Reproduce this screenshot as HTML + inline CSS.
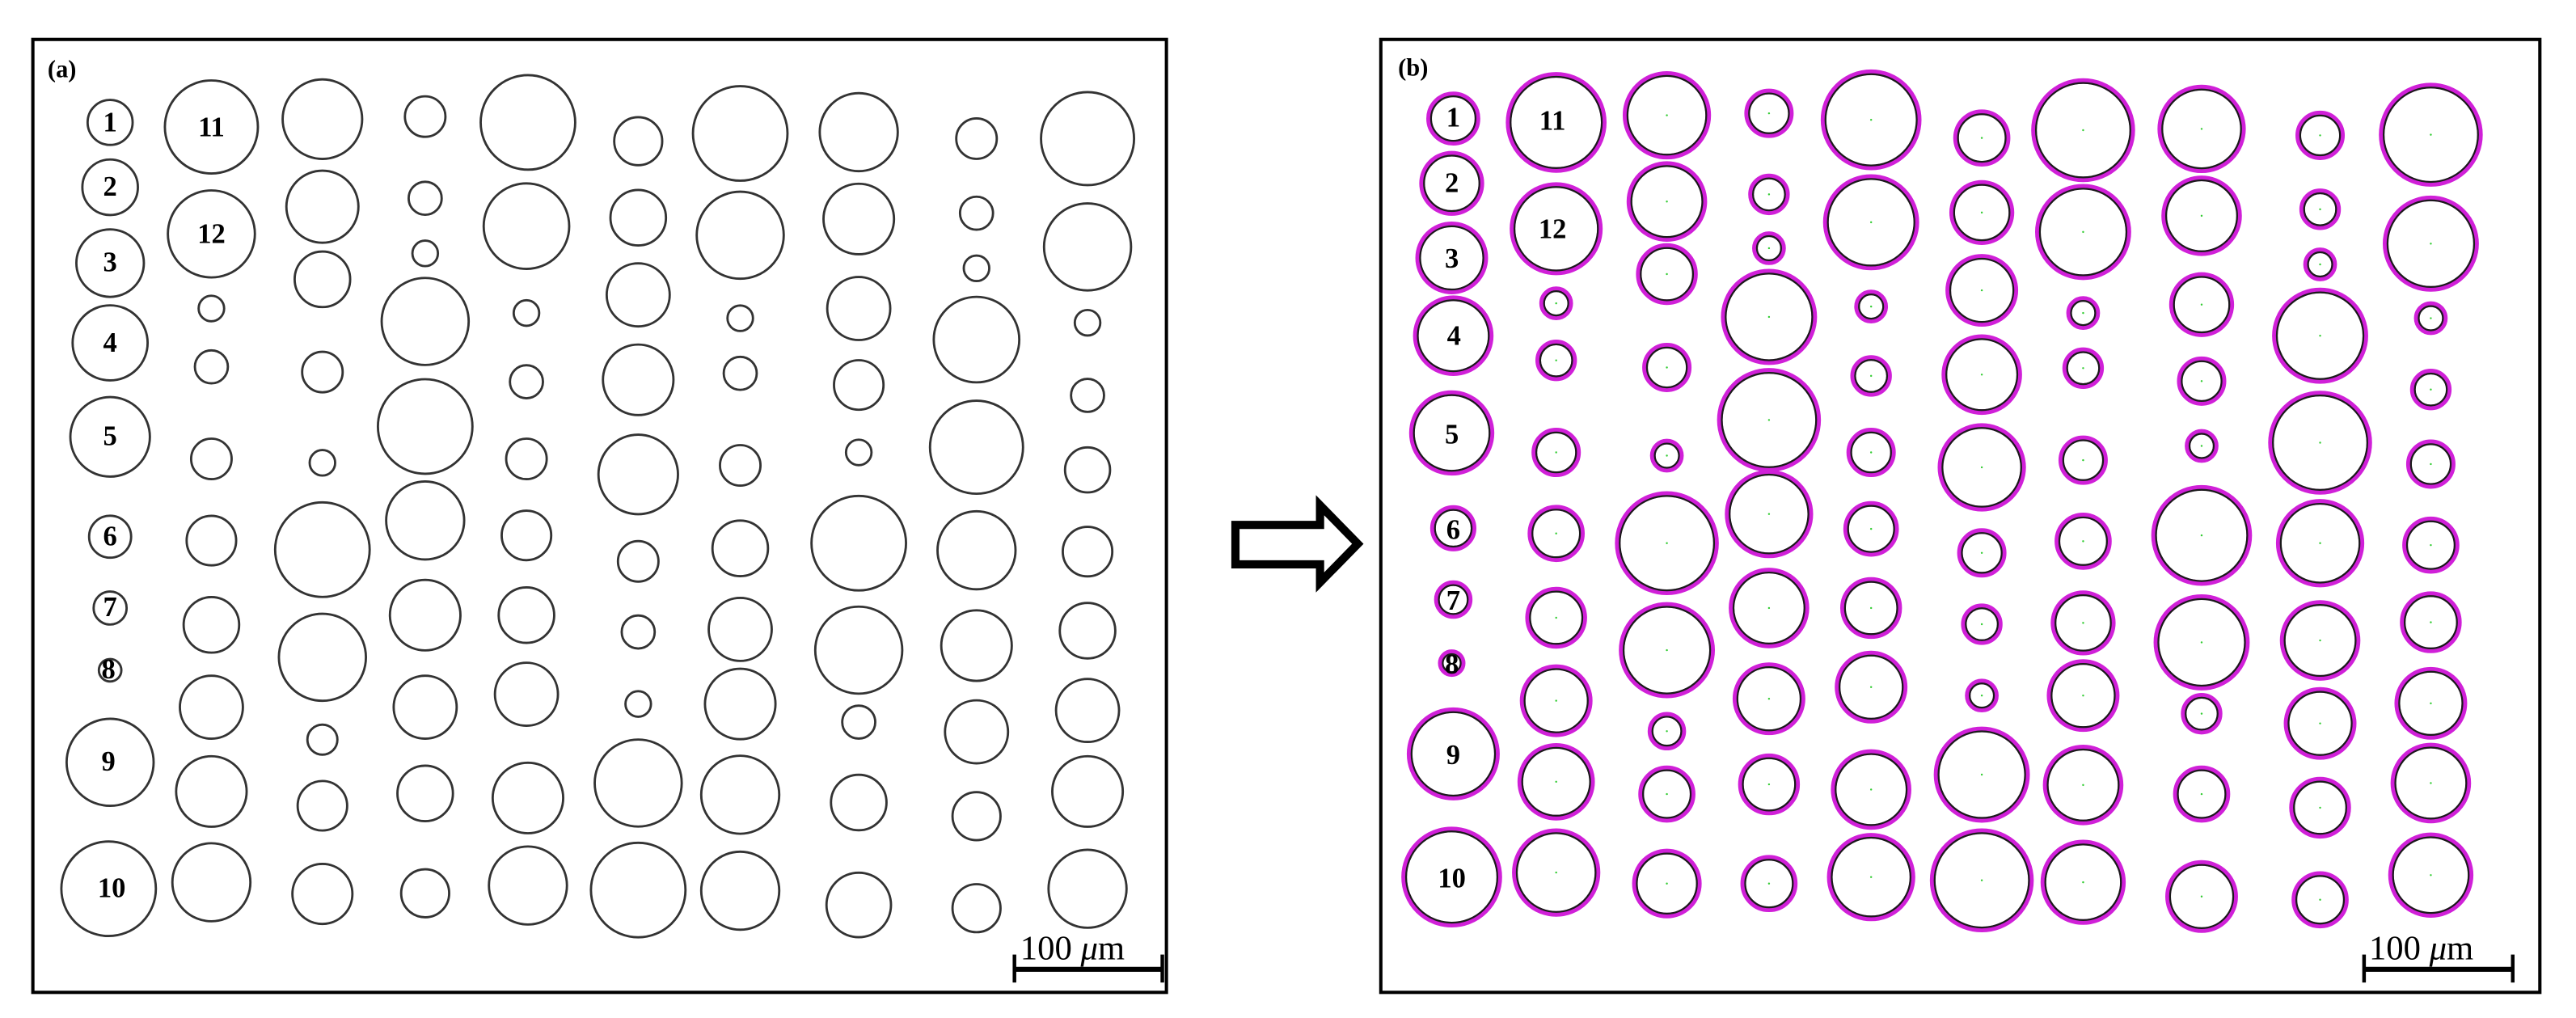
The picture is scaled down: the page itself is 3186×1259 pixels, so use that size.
<!DOCTYPE html>
<html><head><meta charset="utf-8"><style>
html,body{margin:0;padding:0;background:#fff;}
svg{display:block;}
.lb{font-family:"Liberation Serif",serif;font-weight:bold;font-size:17px;text-anchor:middle;fill:#000;}
.sb{font-family:"Liberation Serif",serif;font-size:21px;fill:#000;}
</style></head><body>
<svg id="s" width="3186" height="1259" viewBox="0 0 1568 619.6" preserveAspectRatio="none" xmlns="http://www.w3.org/2000/svg">
<rect x="0" y="0" width="1568" height="620" fill="#fff"/>
<rect x="20" y="24" width="690" height="580" fill="#fff" stroke="#000" stroke-width="2"/>
<rect x="840.5" y="24" width="705.5" height="580" fill="#fff" stroke="#000" stroke-width="2"/>
<g id="ga"></g>
<g id="gb"></g>
<path d="M752,319.5 L803.5,319.5 L803.5,307.5 L826.5,331 L803.5,354.5 L803.5,343.5 L752,343.5 Z" fill="#fff" stroke="#000" stroke-width="5" stroke-linejoin="miter"/>
<text class="lb" x="29" y="47" style="text-anchor:start;font-size:15px">(a)</text>
<text class="lb" x="851" y="46" style="text-anchor:start;font-size:15px">(b)</text>
<g>
<text class="lb" x="67" y="80">1</text>
<text class="lb" x="67" y="119">2</text>
<text class="lb" x="67" y="165">3</text>
<text class="lb" x="67" y="214">4</text>
<text class="lb" x="67" y="271">5</text>
<text class="lb" x="67" y="332">6</text>
<text class="lb" x="67" y="375">7</text>
<text class="lb" x="66" y="413">8</text>
<text class="lb" x="66" y="469">9</text>
<text class="lb" x="68" y="546">10</text>
<text class="lb" x="128.7" y="83">11</text>
<text class="lb" x="128.7" y="148">12</text>
</g>
<g>
<text class="lb" x="884.6" y="77">1</text>
<text class="lb" x="883.7" y="117">2</text>
<text class="lb" x="883.7" y="163">3</text>
<text class="lb" x="885" y="210">4</text>
<text class="lb" x="883.7" y="270">5</text>
<text class="lb" x="884.6" y="328">6</text>
<text class="lb" x="884.6" y="371">7</text>
<text class="lb" x="883.7" y="410">8</text>
<text class="lb" x="884.6" y="465">9</text>
<text class="lb" x="883.7" y="540">10</text>
<text class="lb" x="945" y="79">11</text>
<text class="lb" x="945" y="145">12</text>
</g>
<line x1="617.5" y1="590" x2="707.5" y2="590" stroke="#000" stroke-width="3"/>
<line x1="617.5" y1="581" x2="617.5" y2="598" stroke="#000" stroke-width="2.2"/>
<line x1="707.5" y1="581" x2="707.5" y2="598" stroke="#000" stroke-width="2.2"/>
<text class="sb" x="621" y="584">100 <tspan font-style="italic">μ</tspan>m</text>
<line x1="1439" y1="590" x2="1529.5" y2="590" stroke="#000" stroke-width="3"/>
<line x1="1439" y1="581" x2="1439" y2="598" stroke="#000" stroke-width="2.2"/>
<line x1="1529.5" y1="581" x2="1529.5" y2="598" stroke="#000" stroke-width="2.2"/>
<text class="sb" x="1442" y="584">100 <tspan font-style="italic">μ</tspan>m</text>
</svg>
<script>
var A=[[145,183,30],[145,283,37],[145,400,45],[145,523,50],[145,668,53],[145,822,28],[145,932,22],[145,1028,15],[145,1170,58],[143,1365,63],
[280,190,62],[280,355,58],[280,470,17],[280,560,22],[280,702,27],[280,828,33],[280,958,37],[280,1085,42],[280,1215,47],[280,1355,52],
[428,178,53],[428,313,48],[428,425,37],[428,568,27],[428,708,17],[428,842,63],[428,1008,58],[428,1135,20],[428,1237,33],[428,1373,40],
[565,174,27],[565,300,22],[565,385,17],[565,490,58],[565,652,63],[565,797,52],[565,943,47],[565,1085,42],[565,1218,37],[565,1372,32],
[702,183,63],[700,343,57],[700,477,17],[700,583,22],[700,702,27],[700,820,33],[700,943,37],[700,1065,42],[702,1225,47],[702,1360,52],
[849,212,32],[849,330,37],[849,449,42],[849,580,47],[849,726,53],[849,860,27],[849,969,22],[849,1080,17],[849,1202,58],[849,1367,63],
[985,200,63],[985,357,58],[985,485,17],[985,570,22],[985,712,27],[985,840,37],[985,965,42],[985,1080,47],[985,1220,52],[985,1368,52],
[1143,198,52],[1143,332,47],[1143,470,42],[1143,588,33],[1143,692,17],[1143,832,63],[1143,997,58],[1143,1108,22],[1143,1232,37],[1143,1390,43],
[1300,208,27],[1300,323,22],[1300,408,17],[1300,518,57],[1300,684,62],[1300,843,52],[1300,990,47],[1300,1123,42],[1300,1253,32],[1300,1395,32],
[1448,208,62],[1448,375,58],[1448,492,17],[1448,604,22],[1448,719,30],[1448,845,33],[1448,967,37],[1448,1090,42],[1448,1215,47],[1448,1365,52]];
var B=[[122,177,30],[120,277,37],[120,392,42],[122,512,47],[120,662,50],[122,809,25],[122,919,20],[120,1017,13],[122,1157,55],[120,1347,60],
[254,183,60],[254,347,55],[254,462,17],[254,550,22],[254,692,27],[254,817,32],[254,947,35],[254,1075,42],[254,1200,45],[254,1340,52],
[396,172,52],[396,305,47],[396,417,35],[396,561,27],[396,697,17],[396,832,62],[396,997,57],[396,1122,20],[396,1219,32],[396,1357,40],
[527,169,27],[527,294,22],[527,377,17],[527,483,57],[527,642,62],[527,787,52],[527,932,47],[527,1072,42],[527,1204,35],[527,1357,32],
[658,179,60],[658,337,57],[658,467,17],[658,574,22],[658,692,27],[658,810,31],[658,932,35],[658,1054,42],[658,1212,47],[658,1347,52],
[800,207,32],[800,322,37],[800,442,42],[800,572,47],[800,715,52],[800,847,27],[800,957,22],[800,1067,17],[800,1189,57],[800,1352,62],
[930,195,62],[930,352,57],[930,477,17],[930,562,22],[930,704,27],[930,829,32],[930,955,37],[930,1067,42],[930,1205,47],[930,1355,50],
[1082,193,52],[1082,327,47],[1082,464,37],[1082,582,27],[1082,682,17],[1082,820,60],[1082,985,57],[1082,1095,22],[1082,1219,32],[1082,1377,42],
[1234,203,27],[1234,317,22],[1234,402,17],[1234,512,57],[1234,677,62],[1234,832,52],[1234,982,47],[1234,1110,42],[1234,1240,35],[1234,1382,32],
[1376,202,62],[1376,370,57],[1376,485,17],[1376,595,22],[1376,710,27],[1376,835,32],[1376,954,35],[1376,1079,42],[1376,1202,47],[1376,1344,50]];
var NS="http://www.w3.org/2000/svg";
function c(g,x,y,r,st,sw,f){var e=document.createElementNS(NS,"circle");e.setAttribute("cx",x);e.setAttribute("cy",y);e.setAttribute("r",r);e.setAttribute("fill",f||"none");e.setAttribute("stroke",st);e.setAttribute("stroke-width",sw);g.appendChild(e);}
var ga=document.getElementById("ga"),gb=document.getElementById("gb");
A.forEach(function(p){c(ga,20+(p[0]-42)*0.4566,24+(p[1]-55)*0.3946,p[2]*0.4566,"#333",1.4);});
B.forEach(function(p,i){var x=840+(p[0]-28)*0.4745,y=24+(p[1]-55)*0.3946,r=p[2]*0.4745;
c(gb,x,y,r+0.5,"#d020d8",3.4);c(gb,x,y,r-0.7,"#1a1a1a",1.1);
if(i>=12){c(gb,x,y,0.6,"none",0,"#33cc33");}});
</script>
</body></html>
